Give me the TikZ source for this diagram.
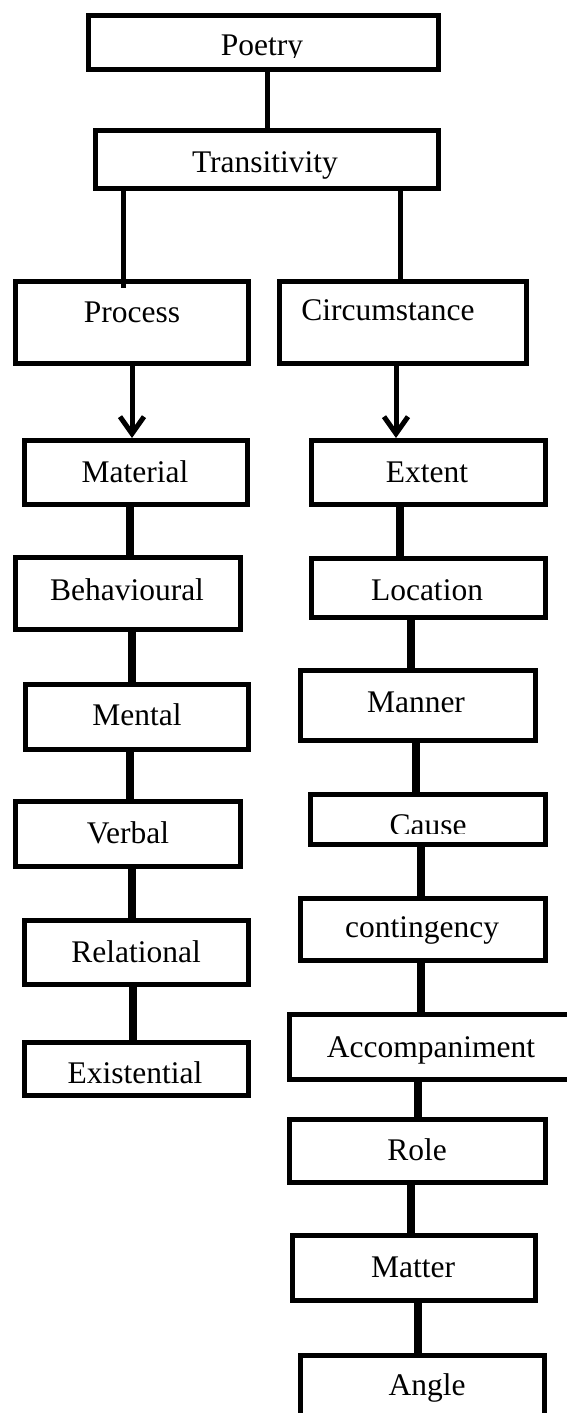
\documentclass[tikz,border=0pt]{standalone}
\usepackage{fontspec}
\setmainfont{Liberation Serif}
\usetikzlibrary{arrows.meta}
\tikzset{
  box/.style={draw, rectangle, line width=5pt, inner sep=0pt},
  lbl/.style={anchor=base, inner sep=0pt, font=\fontsize{31.5}{36}\selectfont},
  thin conn/.style={line width=5pt},
  thick conn/.style={line width=8pt},
  arr/.style={line width=5pt, -{Straight Barb[length=17pt,width=24pt]}},
}
\begin{document}
\begin{tikzpicture}[x=1pt,y=-1pt]
\useasboundingbox (0,0) rectangle (566,1413);
% boxes (centre, inner path size)
\node[box, minimum width=350pt, minimum height=54pt] (poetry) at (263.5,42.5) {};
\node[box, minimum width=343pt, minimum height=58pt] (trans) at (267,159.5) {};
\node[box, minimum width=233pt, minimum height=82pt] (process) at (132,322.5) {};
\node[box, minimum width=247pt, minimum height=82pt] (circ) at (403,322.5) {};
\node[box, minimum width=223pt, minimum height=64pt] (material) at (136,472.5) {};
\node[box, minimum width=234pt, minimum height=64pt] (extent) at (428.5,472.5) {};
\node[box, minimum width=225pt, minimum height=72pt] (behav) at (128,593.5) {};
\node[box, minimum width=234pt, minimum height=59pt] (location) at (428.5,588) {};
\node[box, minimum width=223pt, minimum height=65pt] (mental) at (137,717) {};
\node[box, minimum width=235pt, minimum height=70pt] (manner) at (418,705.5) {};
\node[box, minimum width=225pt, minimum height=65pt] (verbal) at (128,834) {};
\node[box, minimum width=235pt, minimum height=50pt] (cause) at (428,819.5) {};
\node[box, minimum width=224pt, minimum height=64pt] (relational) at (136.5,952.5) {};
\node[box, minimum width=245pt, minimum height=62pt] (conting) at (423,929.5) {};
\node[box, minimum width=224pt, minimum height=53pt] (exist) at (136.5,1069) {};
\node[box, minimum width=288pt, minimum height=65pt] (accomp) at (433.5,1047) {};
\node[box, minimum width=256pt, minimum height=63pt] (role) at (417.5,1151) {};
\node[box, minimum width=243pt, minimum height=65pt] (matter) at (414,1268) {};
\node[box, minimum width=244pt, minimum height=82pt] (angle) at (422.5,1396.5) {};
% labels
\begin{scope}
\clip (86,13) rectangle (441,58);
\node[lbl] (t-poetry) at (262,56) {Poetry};
\end{scope}
\node[lbl] (t-trans) at (265,172) {Transitivity};
\node[lbl] (t-process) at (132,322) {Process};
\node[lbl] (t-circ) at (388,320) {Circumstance};
\node[lbl] (t-material) at (135,482) {Material};
\node[lbl] (t-extent) at (427,482) {Extent};
\node[lbl] (t-behav) at (127,600) {Behavioural};
\node[lbl] (t-location) at (427,600) {Location};
\node[lbl] (t-mental) at (137,725) {Mental};
\node[lbl] (t-manner) at (416,712) {Manner};
\node[lbl] (t-verbal) at (128,843) {Verbal};
\begin{scope}
\clip (308,792) rectangle (548,833);
\node[lbl] (t-cause) at (428,835) {Cause};
\end{scope}
\node[lbl] (t-relational) at (136,962) {Relational};
\node[lbl] (t-conting) at (422,937) {contingency};
\node[lbl] (t-exist) at (135,1083) {Existential};
\node[lbl] (t-accomp) at (431,1057) {Accompaniment};
\node[lbl] (t-role) at (417,1160) {Role};
\node[lbl] (t-matter) at (413,1277) {Matter};
\node[lbl] (t-angle) at (427,1395) {Angle};
% connectors
\draw[thin conn] (poetry.south -| 267,0) -- (trans.north -| 267,0);
\draw[thin conn] (trans.south -| 123,0) -- ([yshift=-9pt]process.north -| 123,0);
\draw[thin conn] (trans.south -| 400,0) -- ([yshift=-3pt]circ.north -| 400,0);
\draw[arr] (process.south -| 132,0) -- (material.north -| 132,0);
\draw[arr] (circ.south -| 396,0) -- (extent.north -| 396,0);
\draw[thick conn] (material.south -| 130,0) -- (behav.north -| 130,0);
\draw[thick conn] (behav.south -| 132,0) -- (mental.north -| 132,0);
\draw[thick conn] (mental.south -| 130,0) -- (verbal.north -| 130,0);
\draw[thick conn] (verbal.south -| 132,0) -- (relational.north -| 132,0);
\draw[thick conn] (relational.south -| 133,0) -- (exist.north -| 133,0);
\draw[thick conn] (extent.south -| 400,0) -- (location.north -| 400,0);
\draw[thick conn] (location.south -| 411,0) -- (manner.north -| 411,0);
\draw[thick conn] (manner.south -| 416,0) -- (cause.north -| 416,0);
\draw[thick conn] (cause.south -| 421,0) -- (conting.north -| 421,0);
\draw[thick conn] (conting.south -| 421,0) -- (accomp.north -| 421,0);
\draw[thick conn] (accomp.south -| 418,0) -- (role.north -| 418,0);
\draw[thick conn] (role.south -| 411,0) -- (matter.north -| 411,0);
\draw[thick conn] (matter.south -| 418,0) -- (angle.north -| 418,0);
\end{tikzpicture}
\end{document}
